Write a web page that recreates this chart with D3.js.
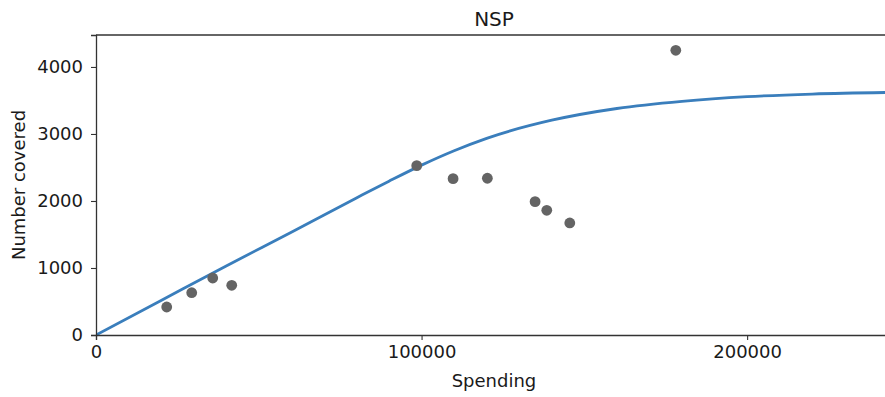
<!DOCTYPE html>
<html><head><meta charset="utf-8">
<script src="https://cdn.jsdelivr.net/npm/d3@7"></script>
<style>body{margin:0;background:#fff;}svg{display:block;}</style>
</head><body>
<script>
const title = "NSP";
const xLabel = "Spending";
const yLabel = "Number covered";
const pointX = [21720, 29400, 35850, 41690, 98520, 109680, 120210, 134870, 138460, 145530, 178090];
const pointY = [418, 631, 851, 742, 2527, 2333, 2339, 1990, 1861, 1672, 4249];
const curveX = [0, 20000, 40000, 60000, 80000, 90000, 100000, 110000, 120000, 140000, 160000, 180000, 200000, 220000, 250000];
const curveY = [0, 515, 1030, 1535, 2045, 2295, 2535, 2750, 2935, 3205, 3380, 3487, 3556, 3596, 3624];
const xTicks = [0, 100000, 200000];
const yTicks = [0, 1000, 2000, 3000, 4000];

const W = 885, H = 397;
const svg = d3.select("body").append("svg").attr("width", W).attr("height", H);
const x = d3.scaleLinear().domain([0, 244500]).range([96, 892]);
const y = d3.scaleLinear().domain([0, 4477]).range([335, 35]);
const font = "DejaVu Sans, sans-serif";

svg.append("clipPath").attr("id","c").append("rect")
  .attr("x", 96).attr("y", 35).attr("width", 796).attr("height", 300);

const line = d3.line().x((d,i)=>x(curveX[i])).y((d,i)=>y(curveY[i])).curve(d3.curveMonotoneX);
svg.append("path").attr("clip-path","url(#c)").attr("d", line(curveX))
  .attr("fill","none").attr("stroke","#3a7ebc").attr("stroke-width",2.8);

svg.append("g").selectAll("circle").data(pointX).join("circle")
  .attr("cx",(d)=>x(d)).attr("cy",(d,i)=>y(pointY[i])).attr("r",5.4).attr("fill","#646464");

const xAxis = svg.append("g").attr("transform","translate(0,335)")
  .call(d3.axisBottom(x).tickValues(xTicks).tickFormat(d3.format("d")).tickSize(5).tickPadding(5));
const yAxis = svg.append("g").attr("transform","translate(96,0)")
  .call(d3.axisLeft(y).tickValues(yTicks).tickFormat(d3.format("d")).tickSize(5).tickPadding(8));
[xAxis, yAxis].forEach(g=>{
  g.selectAll("path.domain").attr("stroke","#333").attr("stroke-width",1.3);
  g.selectAll(".tick line").attr("stroke","#333").attr("stroke-width",1.1);
  g.selectAll("text").attr("font-family",font).attr("font-size",18).attr("fill","#1a1a1a");
});
svg.append("line").attr("x1",96).attr("x2",892).attr("y1",35).attr("y2",35)
  .attr("stroke","#333").attr("stroke-width",1.3);

svg.append("text").attr("x",494).attr("y",26).attr("text-anchor","middle")
  .attr("font-family",font).attr("font-size",20).attr("fill","#1a1a1a").text(title);
svg.append("text").attr("x",494).attr("y",387).attr("text-anchor","middle")
  .attr("font-family",font).attr("font-size",18).attr("fill","#1a1a1a").text(xLabel);
svg.append("text").attr("transform","translate(25,185) rotate(-90)").attr("text-anchor","middle")
  .attr("font-family",font).attr("font-size",18).attr("fill","#1a1a1a").text(yLabel);
</script>
</body></html>
